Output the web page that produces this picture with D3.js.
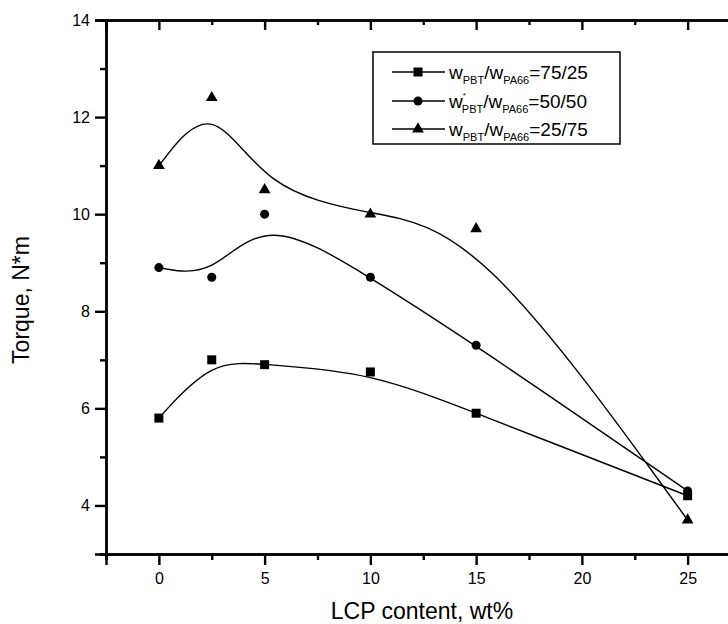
<!DOCTYPE html>
<html>
<head>
<meta charset="utf-8">
<script src="https://cdn.jsdelivr.net/npm/d3@7"></script>
<style>
  body { margin: 0; background: #fff; }
  svg { display: block; font-family: "Liberation Sans", Arial, sans-serif; }
</style>
</head>
<body>
<svg id="chart" width="728" height="624"></svg>
<script>
// LCP content, wt%
const lcp = [0, 2.5, 5, 10, 15, 25];
// torque, N*m
const torque7525 = [5.8, 7.0, 6.9, 6.75, 5.9, 4.2];
const torque5050 = [8.9, 8.7, 10.0, 8.7, 7.3, 4.3];
const torque2575 = [11.0, 12.4, 10.5, 10.0, 9.7, 3.7];
const xTicks = [0, 5, 10, 15, 20, 25];
const yTicks = [4, 6, 8, 10, 12, 14];
const seriesNames = ["75/25", "50/50", "25/75"];

const svg = d3.select("#chart");
const x = d3.scaleLinear().domain([-2.5, 27.5]).range([106, 740.5]);
const y = d3.scaleLinear().domain([3, 14]).range([554, 20]);

// 轴
const axes = svg.append("g");
const xMinor = d3.range(-2.5, 28, 2.5).filter(v => xTicks.indexOf(v) < 0);
const yMinor = d3.range(3, 14.5, 1).filter(v => yTicks.indexOf(v) < 0);

const xb = axes.append("g").attr("transform", "translate(0,554)")
  .call(d3.axisBottom(x).tickValues(xTicks).tickSize(11).tickPadding(8).tickFormat(d3.format("d")));
axes.append("g").attr("transform", "translate(0,554)")
  .call(d3.axisBottom(x).tickValues(xMinor).tickSize(6).tickFormat(""));
axes.append("g").attr("transform", "translate(0,20)")
  .call(d3.axisTop(x).tickValues(xTicks).tickSize(-10).tickFormat(""));
axes.append("g").attr("transform", "translate(0,20)")
  .call(d3.axisTop(x).tickValues(xMinor).tickSize(-5).tickFormat(""));
axes.append("g").attr("transform", "translate(106,0)")
  .call(d3.axisLeft(y).tickValues(yTicks).tickSize(11).tickPadding(5).tickFormat(d3.format("d")));
axes.append("g").attr("transform", "translate(106,0)")
  .call(d3.axisLeft(y).tickValues(yMinor).tickSize(6).tickFormat(""));

axes.selectAll("path.domain").attr("stroke", "#000").attr("stroke-width", 2.4);
axes.selectAll(".tick line").attr("stroke", "#000").attr("stroke-width", 2.4);
axes.selectAll(".tick text").attr("font-size", 16).attr("fill", "#000")
  .attr("font-family", "'Liberation Sans', Arial, sans-serif");

// 轴标题
svg.append("text")
  .attr("x", 422).attr("y", 619)
  .attr("text-anchor", "middle").attr("font-size", 23)
  .text("LCP content, wt%");
svg.append("text")
  .attr("transform", "translate(29,300) rotate(-90)")
  .attr("text-anchor", "middle").attr("font-size", 23)
  .text("Torque, N*m");

// 曲线和点
const series = [torque7525, torque5050, torque2575];
const shapes = [d3.symbolSquare, d3.symbolCircle, d3.symbolTriangle];
const sizes = [81, 64, 60];
const line = d3.line().x(d => x(d[0])).y(d => y(d[1])).curve(d3.curveBasis);

series.forEach(function(vals, i){
  const pts = lcp.map((v, j) => [v, vals[j]]);
  svg.append("path")
    .attr("d", line(pts))
    .attr("fill", "none")
    .attr("stroke", "#000")
    .attr("stroke-width", 1.4);
  svg.append("g").selectAll("path")
    .data(pts)
    .enter()
    .append("path")
    .attr("transform", d => "translate(" + x(d[0]) + "," + y(d[1]) + ")")
    .attr("d", d3.symbol().type(shapes[i]).size(sizes[i]))
    .attr("fill", "#000");
});

// 图例
const legend = svg.append("g");
legend.append("rect")
  .attr("x", 373).attr("y", 52).attr("width", 247).attr("height", 92)
  .attr("fill", "#fff").attr("stroke", "#000").attr("stroke-width", 1.5);

const rowY = [72, 101, 129];
seriesNames.forEach(function(name, i){
  const cy = rowY[i];
  legend.append("line")
    .attr("x1", 392).attr("x2", 445).attr("y1", cy).attr("y2", cy)
    .attr("stroke", "#000").attr("stroke-width", 1.4);
  legend.append("path")
    .attr("transform", "translate(418," + cy + ")")
    .attr("d", d3.symbol().type(shapes[i]).size(sizes[i]))
    .attr("fill", "#000");
  const t = legend.append("text")
    .attr("x", 449).attr("y", cy + 7)
    .attr("font-size", 19);
  t.append("tspan").text("w");
  if (i == 1) {
    t.append("tspan").attr("font-size", 8).attr("dy", -10).text("*");
    t.append("tspan").attr("font-size", 11).attr("dy", 15).attr("dx", -4).text("PBT");
  } else {
    t.append("tspan").attr("font-size", 11).attr("dy", 5).text("PBT");
  }
  t.append("tspan").attr("dy", -5).text("/w");
  t.append("tspan").attr("font-size", 11).attr("dy", 5).text("PA66");
  t.append("tspan").attr("dy", -5).text("=" + name);
});
</script>
</body>
</html>
